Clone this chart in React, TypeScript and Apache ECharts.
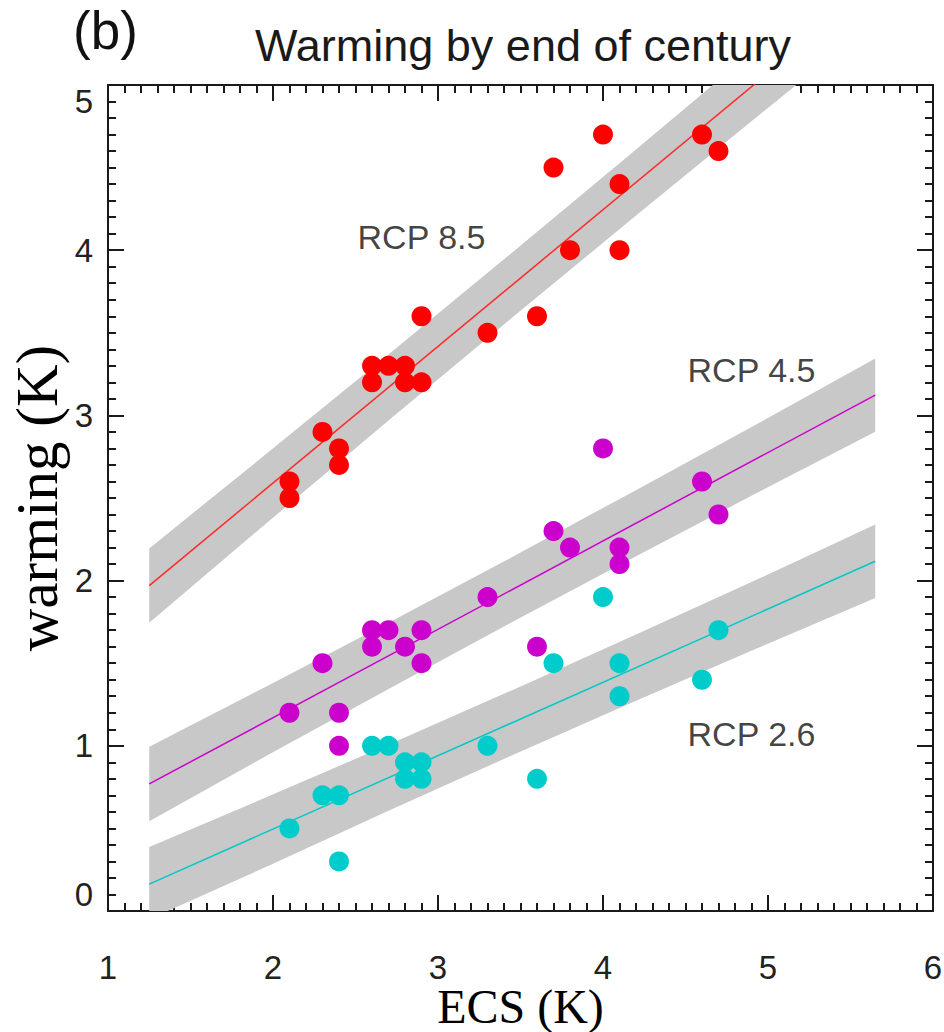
import React, { useEffect, useRef } from "react";
import * as echarts from "echarts";

// ---- Data ----
const rcp85Points: number[][] = [
  [2.1, 2.6], [2.1, 2.5], [2.3, 2.9], [2.4, 2.8], [2.4, 2.7],
  [2.6, 3.3], [2.6, 3.2], [2.7, 3.3], [2.8, 3.3], [2.8, 3.2],
  [2.9, 3.6], [2.9, 3.2], [3.3, 3.5], [3.6, 3.6], [3.7, 4.5],
  [3.8, 4.0], [4.0, 4.7], [4.1, 4.4], [4.1, 4.0], [4.6, 4.7], [4.7, 4.6],
];
const rcp45Points: number[][] = [
  [2.1, 1.2], [2.3, 1.5], [2.4, 1.2], [2.4, 1.0], [2.6, 1.7],
  [2.6, 1.6], [2.7, 1.7], [2.8, 1.6], [2.9, 1.7], [2.9, 1.5],
  [3.3, 1.9], [3.6, 1.6], [3.7, 2.3], [3.8, 2.2], [4.0, 2.8],
  [4.1, 2.2], [4.1, 2.1], [4.6, 2.6], [4.7, 2.4],
];
const rcp26Points: number[][] = [
  [2.1, 0.5], [2.3, 0.7], [2.4, 0.7], [2.4, 0.3], [2.6, 1.0],
  [2.7, 1.0], [2.8, 0.9], [2.8, 0.8], [2.9, 0.9], [2.9, 0.8],
  [3.3, 1.0], [3.6, 0.8], [3.7, 1.5], [4.0, 1.9], [4.1, 1.5],
  [4.1, 1.3], [4.6, 1.4], [4.7, 1.7],
];

// regression lines (end points)
const rcp85Fit: number[][] = [[1.25, 1.97], [5.65, 5.61]];
const rcp45Fit: number[][] = [[1.25, 0.769], [5.65, 3.123]];
const rcp26Fit: number[][] = [[1.25, 0.163], [5.65, 2.117]];

// uncertainty bands
const bandX = [1.25, 1.98, 2.72, 3.45, 4.18, 4.92, 5.65];
const rcp85Upper = [2.195, 2.784, 3.386, 3.986, 4.593, 5.213, 5.831];
const rcp85Lower = [1.745, 2.364, 2.986, 3.592, 4.193, 4.797, 5.387];
const rcp45Upper = [0.994, 1.37, 1.755, 2.143, 2.537, 2.94, 3.345];
const rcp45Lower = [0.544, 0.95, 1.355, 1.749, 2.137, 2.524, 2.901];
const rcp26Upper = [0.388, 0.697, 1.016, 1.337, 1.664, 2.0, 2.339];
const rcp26Lower = [-0.05, 0.277, 0.616, 0.943, 1.264, 1.584, 1.895];

// labels [x, y, text]
const scenarioLabels: (number | string)[][] = [
  [2.9, 4.08, "RCP 8.5"],
  [4.9, 3.275, "RCP 4.5"],
  [4.9, 1.074, "RCP 2.6"],
];

const xTicks = { min: 1, max: 6, interval: 1 };
const yTicks = { min: 0, max: 5, interval: 1 };

const SANS = '"Liberation Sans", Arial, Helvetica, sans-serif';
const SERIF = '"Liberation Serif", "Times New Roman", serif';
const AXIS_COLOR = "#1a1a1a";
const BAND_COLOR = "#c8c8c8";

function bandSeries(upper: number[], lower: number[], name: string) {
  return {
    type: "custom",
    name,
    clip: true,
    z: 1,
    silent: true,
    data: [0],
    renderItem: (params: any, api: any) => {
      const pts: number[][] = [];
      for (let i = 0; i < bandX.length; i++) pts.push(api.coord([bandX[i], upper[i]]));
      for (let i = bandX.length - 1; i >= 0; i--) pts.push(api.coord([bandX[i], lower[i]]));
      const cs = params.coordSys;
      return {
        type: "polygon",
        shape: { points: pts },
        style: { fill: BAND_COLOR, stroke: "none" },
        clipPath: { type: "rect", shape: { x: cs.x, y: cs.y, width: cs.width, height: cs.height } },
      };
    },
  };
}

function fitSeries(data: number[][], color: string) {
  return {
    type: "line",
    data,
    z: 2,
    symbol: "none",
    silent: true,
    clip: true,
    lineStyle: { color, width: 1.5 },
  };
}

function pointSeries(data: number[][], color: string) {
  return {
    type: "scatter",
    data,
    z: 3,
    symbol: "circle",
    symbolSize: 20,
    itemStyle: { color, opacity: 1 },
  };
}

function axisCommon(showLabels: boolean) {
  return {
    axisLine: { show: true, onZero: false, lineStyle: { color: AXIS_COLOR, width: 2 } },
    axisTick: { show: true, inside: true, length: 16, lineStyle: { color: AXIS_COLOR, width: 2 } },
    minorTick: { show: true, splitNumber: 10, length: 8, lineStyle: { color: AXIS_COLOR, width: 2 } },
    splitLine: { show: false },
    minorSplitLine: { show: false },
    axisLabel: { show: showLabels },
  };
}

export default function App() {
  const ref = useRef<HTMLDivElement>(null);
  useEffect(() => {
    if (!ref.current) return;
    const chart = echarts.init(ref.current, undefined, { renderer: "svg" });
    const option: any = {
      animation: false,
      backgroundColor: "#ffffff",
      grid: {
        left: 108,
        right: 11,
        top: 85,
        bottom: 121,
        containLabel: false,
        outerBoundsMode: "none",
      },
      graphic: [
        {
          type: "text",
          left: 73,
          top: 4,
          style: { text: "(b)", font: `53px ${SANS}`, fill: "#111" },
        },
        {
          type: "text",
          x: 523,
          y: 45,
          style: {
            text: "Warming by end of century",
            font: `45px ${SANS}`,
            fill: "#1a1a1a",
            textAlign: "center",
            textVerticalAlign: "middle",
          },
        },
      ],
      xAxis: [
        {
          type: "value",
          position: "bottom",
          ...xTicks,
          ...axisCommon(true),
          axisLabel: { show: true, margin: 40, fontSize: 33, fontFamily: SANS, color: "#222" },
          name: "ECS (K)",
          nameLocation: "middle",
          nameGap: 73,
          nameMoveOverlap: false,
          nameTextStyle: { fontSize: 48, lineHeight: 44, fontFamily: SERIF, color: "#000" },
        },
        {
          type: "value",
          position: "top",
          ...xTicks,
          ...axisCommon(false),
        },
      ],
      yAxis: [
        {
          type: "value",
          position: "left",
          ...yTicks,
          ...axisCommon(true),
          axisLabel: {
            show: true,
            margin: 15,
            fontSize: 33,
            fontFamily: SANS,
            color: "#222",
            verticalAlignMaxLabel: "top",
            verticalAlignMinLabel: "bottom",
          },
          name: "warming (K)",
          nameLocation: "middle",
          nameGap: 43,
          nameMoveOverlap: false,
          nameTextStyle: { fontSize: 59, lineHeight: 56, fontFamily: SERIF, color: "#000" },
        },
        {
          type: "value",
          position: "right",
          ...yTicks,
          ...axisCommon(false),
        },
      ],
      series: [
        bandSeries(rcp85Upper, rcp85Lower, "band85"),
        bandSeries(rcp45Upper, rcp45Lower, "band45"),
        bandSeries(rcp26Upper, rcp26Lower, "band26"),
        fitSeries(rcp85Fit, "#ff2a2a"),
        fitSeries(rcp45Fit, "#cc00cc"),
        fitSeries(rcp26Fit, "#00c8c8"),
        pointSeries(rcp85Points, "#ff0000"),
        pointSeries(rcp45Points, "#cc00cc"),
        pointSeries(rcp26Points, "#00cccc"),
        {
          type: "scatter",
          data: scenarioLabels,
          symbolSize: 0,
          silent: true,
          z: 4,
          label: {
            show: true,
            position: "inside",
            formatter: (p: any) => p.value[2],
            fontSize: 34,
            fontFamily: SANS,
            color: "#111",
          },
        },
      ],
    };
    chart.setOption(option);
    return () => chart.dispose();
  }, []);
  return (
    <div
      ref={ref}
      style={{ position: "fixed", left: 0, top: 0, width: 944, height: 1032, background: "#fff" }}
    />
  );
}
